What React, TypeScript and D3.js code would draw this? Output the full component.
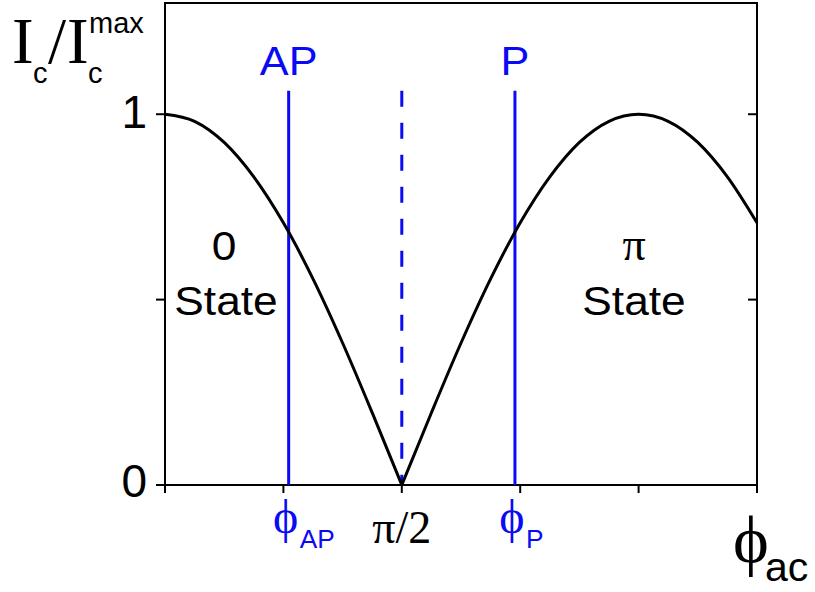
import React from "react";
import * as d3 from "d3";

// Normalised critical current |Ic/Ic_max| sampled along the phase axis (degrees)
const phaseDeg = [0, 11.25, 22.5, 33.75, 45, 56.25, 67.5, 78.75, 90, 101.25, 112.5, 123.75, 135, 146.25, 157.5, 168.75, 180, 191.25, 202.5, 213.75, 225];
const icRatio = [1, 0.981, 0.924, 0.831, 0.707, 0.556, 0.383, 0.195, 0, 0.195, 0.383, 0.556, 0.707, 0.831, 0.924, 0.981, 1, 0.981, 0.924, 0.831, 0.707];

// Magnetic configurations marked on the phase axis
const markerLabels = ["AP", "P"];
const markerPhases = [47, 133];
const cuspPhase = 90;

const xTickDeg = [0, 45, 90, 135, 180, 225];
const yTicks = [0, 0.5, 1];
const yTickLabels = ["0", "", "1"];

const W = 815;
const H = 592;
const left = 165;
const right = 757;
const top = 3;
const bottom = 485;

const SANS = "'Liberation Sans', Arial, sans-serif";
const SERIF = "'Liberation Serif', 'Times New Roman', serif";
const BLUE = "#0a0af5";
const PHI = "\u03D5";

function Stretched({ x, y, sx = 1.08, children, ...rest }: any) {
  return (
    <g transform={`translate(${x},${y}) scale(${sx},1)`}>
      <text x={0} y={0} {...rest}>
        {children}
      </text>
    </g>
  );
}

export default function App() {
  const x = d3.scaleLinear().domain([0, 225]).range([left, right]);
  const y = d3.scaleLinear().domain([0, 1.3]).range([bottom, top]);

  const pts = phaseDeg.map((p, i) => [p, icRatio[i]] as [number, number]);
  const leftBranch = pts.filter((d) => d[0] <= cuspPhase);
  const rightBranch = pts.filter((d) => d[0] >= cuspPhase);
  const line = d3
    .line<[number, number]>()
    .x((d) => x(d[0]))
    .y((d) => y(d[1]))
    .curve(d3.curveMonotoneX);

  const markerTop = y(1.063);

  return (
    <svg width={W} height={H} style={{ position: "absolute", left: 0, top: 0, background: "#fff" }}>
      {/* frame */}
      <rect x={left} y={top} width={right - left} height={bottom - top} fill="none" stroke="#000" strokeWidth={2} />

      {/* y ticks: outward on the left, inward on the right */}
      {yTicks.map((t) => (
        <g key={"yt" + t}>
          <line x1={left - 9} x2={left} y1={y(t)} y2={y(t)} stroke="#000" strokeWidth={2} />
          <line x1={right - 9} x2={right} y1={y(t)} y2={y(t)} stroke="#000" strokeWidth={2} />
        </g>
      ))}
      {yTicks.map((t, i) =>
        yTickLabels[i] ? (
          <text key={"yl" + t} x={147} y={y(t) + (t === 1 ? 14 : 12)} textAnchor="end" fontFamily={SANS} fontSize={46} fill="#000">
            {yTickLabels[i]}
          </text>
        ) : null
      )}

      {/* x ticks */}
      {xTickDeg.map((t) => (
        <line key={"xt" + t} x1={x(t)} x2={x(t)} y1={bottom} y2={bottom + 8} stroke="#000" strokeWidth={2} />
      ))}

      {/* marker lines */}
      {markerPhases.map((p, i) => (
        <line key={"m" + i} x1={x(p)} x2={x(p)} y1={markerTop} y2={y(0)} stroke={BLUE} strokeWidth={3} />
      ))}
      <line x1={x(cuspPhase)} x2={x(cuspPhase)} y1={markerTop} y2={y(0)} stroke={BLUE} strokeWidth={3} strokeDasharray="16 16" />

      {/* Ic curve */}
      <path d={line(leftBranch) || ""} fill="none" stroke="#000" strokeWidth={3} />
      <path d={line(rightBranch) || ""} fill="none" stroke="#000" strokeWidth={3} />

      {/* marker captions */}
      {markerPhases.map((p, i) => (
        <Stretched key={"ml" + i} x={x(p)} y={75} textAnchor="middle" fontFamily={SANS} fontSize={40} fill={BLUE}>
          {markerLabels[i]}
        </Stretched>
      ))}

      {/* x tick captions */}
      {markerPhases.map((p, i) => (
        <g key={"xl" + i}>
          <text x={x(p) - 3} y={533} textAnchor="middle" fontFamily={SERIF} fontSize={48} fill={BLUE}>
            {PHI}
          </text>
          <Stretched x={x(p) + 11} y={548} sx={1.05} fontFamily={SANS} fontSize={25} fill={BLUE}>
            {markerLabels[i]}
          </Stretched>
        </g>
      ))}
      <text x={x(cuspPhase)} y={543} textAnchor="middle" fontFamily={SERIF} fontSize={46} fill="#000">
        π/2
      </text>

      {/* state annotations */}
      <Stretched x={224} y={260} textAnchor="middle" fontFamily={SANS} fontSize={41} fill="#000">
        0
      </Stretched>
      <Stretched x={226} y={315} textAnchor="middle" fontFamily={SANS} fontSize={41} fill="#000">
        State
      </Stretched>
      <text x={634} y={260} textAnchor="middle" fontFamily={SERIF} fontSize={46} fill="#000">
        π
      </text>
      <Stretched x={634} y={315} textAnchor="middle" fontFamily={SANS} fontSize={41} fill="#000">
        State
      </Stretched>

      {/* axis titles */}
      <text x={12} y={63} fontFamily={SERIF} fontSize={65} fill="#000">I</text>
      <text x={33} y={83} fontFamily={SANS} fontSize={29} fill="#000">c</text>
      <text x={48} y={63} fontFamily={SERIF} fontSize={65} fill="#000">/</text>
      <text x={67} y={63} fontFamily={SERIF} fontSize={65} fill="#000">I</text>
      <text x={88} y={83} fontFamily={SANS} fontSize={29} fill="#000">c</text>
      <text x={89} y={33} fontFamily={SANS} fontSize={29} fill="#000">max</text>

      <text x={733} y={563} fontFamily={SERIF} fontSize={68} fill="#000">{PHI}</text>
      <text x={765} y={581} fontFamily={SANS} fontSize={41} fill="#000">ac</text>
    </svg>
  );
}
